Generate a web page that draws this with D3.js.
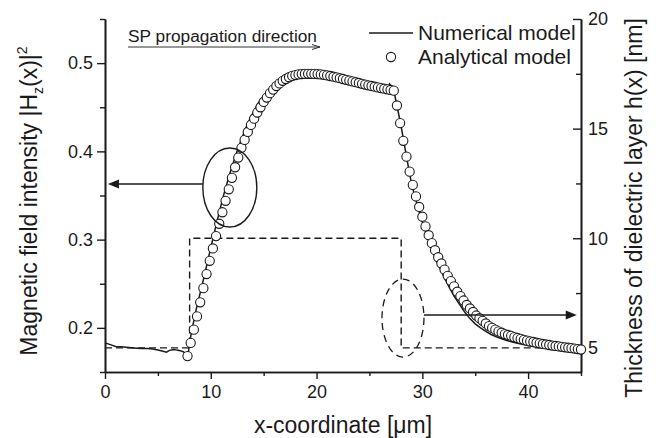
<!DOCTYPE html>
<html><head><meta charset="utf-8">
<script src="https://cdn.jsdelivr.net/npm/d3@7"></script>
<style>
html,body{margin:0;padding:0;background:#fff;}
text{font-family:"Liberation Sans",Arial,sans-serif;fill:#1a1a1a;}
</style></head>
<body><svg id="c" width="656" height="438"></svg>
<script>
// ---------- data ----------
const xTicks = [0, 10, 20, 30, 40];
const xMinor = [5, 15, 25, 35, 45];
const yTicks = [0.2, 0.3, 0.4, 0.5];
const yMinor = [0.15, 0.25, 0.35, 0.45, 0.55];
const hTicks = [5, 10, 15, 20];
const hMinor = [7.5, 12.5, 17.5];

// Numerical model (solid line)
const numX = [0,0.5,1,1.5,2,2.5,3,3.5,4,4.5,5,5.5,5.8,6.1,6.5,6.8,7.1,7.4,7.7,7.85,8.0,8.2,8.66,9.29,9.77,10.24,10.7,11.18,11.8,12.45,12.9,13.5,14,14.5,15,15.5,16,16.5,17,17.5,18,19,20,21,22,23,24,25,26,26.7,26.9,27.05,27.3,27.6,28,28.5,29,29.5,30,30.5,31,31.5,32,32.5,33,33.5,34,34.5,35,35.5,36,36.5,37,37.5,38,38.5,39,40,41,42,43,44,45];
const numY = [0.183,0.181,0.179,0.1785,0.178,0.1775,0.177,0.1765,0.1765,0.176,0.175,0.1735,0.1725,0.1745,0.1755,0.1748,0.1742,0.173,0.170,0.169,0.183,0.197,0.223,0.254,0.279,0.303,0.326,0.349,0.375,0.399,0.414,0.432,0.444,0.455,0.463,0.470,0.475,0.479,0.482,0.4845,0.486,0.4875,0.4878,0.4865,0.4835,0.4805,0.4775,0.4745,0.472,0.4705,0.4765,0.4745,0.469,0.452,0.428,0.394,0.362,0.340,0.320,0.302,0.286,0.272,0.259,0.247,0.236,0.227,0.218,0.2105,0.2045,0.2,0.196,0.1925,0.19,0.1877,0.1857,0.184,0.1825,0.18,0.178,0.1765,0.1755,0.1747,0.174];

// Analytical model (open circles)
const anaX = [7.8,8.1,8.4,8.7,9.0,9.3,9.6,9.9,10.2,10.5,10.8,11.1,11.4,11.7,12.0,12.3,12.6,12.9,13.2,13.5,13.8,14.1,14.4,14.7,15.0,15.3,15.6,15.9,16.2,16.5,16.8,17.1,17.4,17.7,18.0,18.3,18.6,18.9,19.2,19.5,19.8,20.1,20.4,20.7,21.0,21.3,21.6,21.9,22.2,22.5,22.8,23.1,23.4,23.7,24.0,24.3,24.6,24.9,25.2,25.5,25.8,26.1,26.4,26.7,27.0,27.3,27.6,27.9,28.2,28.5,28.8,29.1,29.4,29.7,30.0,30.3,30.6,30.9,31.2,31.5,31.8,32.1,32.4,32.7,33.0,33.3,33.6,33.9,34.2,34.5,34.8,35.1,35.4,35.7,36.0,36.3,36.6,36.9,37.2,37.5,37.8,38.1,38.4,38.7,39.0,39.3,39.6,39.9,40.2,40.5,40.8,41.1,41.4,41.7,42.0,42.3,42.6,42.9,43.2,43.5,43.8,44.1,44.4,44.7,45.0];
const anaY = [0.168,0.183,0.198,0.213,0.229,0.245,0.261,0.276,0.290,0.304,0.318,0.331,0.344,0.357,0.370,0.382,0.393,0.404,0.413,0.422,0.430,0.437,0.444,0.450,0.456,0.461,0.466,0.470,0.474,0.477,0.480,0.482,0.484,0.4855,0.4865,0.4872,0.4876,0.4878,0.4879,0.4879,0.4878,0.4876,0.4872,0.4867,0.4861,0.4854,0.4846,0.4838,0.4829,0.4820,0.4811,0.4802,0.4793,0.4784,0.4775,0.4766,0.4757,0.4749,0.4741,0.4733,0.4725,0.4717,0.4710,0.4703,0.4696,0.4688,0.452,0.432,0.412,0.394,0.377,0.362,0.349,0.337,0.326,0.315,0.305,0.296,0.288,0.280,0.273,0.266,0.259,0.253,0.247,0.241,0.236,0.231,0.226,0.222,0.218,0.214,0.211,0.208,0.205,0.202,0.200,0.198,0.196,0.1945,0.193,0.192,0.191,0.1895,0.1885,0.1875,0.1865,0.1855,0.1847,0.1840,0.1832,0.1825,0.1818,0.1812,0.1806,0.1800,0.1795,0.1790,0.1785,0.1780,0.1775,0.1770,0.1765,0.1760,0.1755];

// Dielectric layer thickness h(x) (dashed step)
const hX = [0, 8, 28, 45];
const hY = [5, 10, 5, 5];

// ---------- layout ----------
const svg = d3.select("#c");
const L = 105, R = 581, T = 19, B = 372;
const x = d3.scaleLinear().domain([0, 45]).range([L, R]);
const y = d3.scaleLinear().domain([0.15, 0.55]).range([B, T]);
const yh = d3.scaleLinear().domain([3.9, 20]).range([B, T]);
const ink = "#1a1a1a";

function styleAxis(g){
  g.selectAll("path.domain").attr("stroke", ink).attr("stroke-width", 1.6);
  g.selectAll(".tick line").attr("stroke", ink).attr("stroke-width", 1.4);
  g.selectAll("text").attr("font-size", 18).attr("fill", ink)
    .attr("font-family", '"Liberation Sans",Arial,sans-serif');
}

// bottom axis
svg.append("g").attr("transform", `translate(0,${B})`)
  .call(d3.axisBottom(x).tickValues(xMinor).tickSize(4).tickSizeOuter(0).tickFormat(""))
  .call(styleAxis);
svg.append("g").attr("transform", `translate(0,${B})`)
  .call(d3.axisBottom(x).tickValues(xTicks).tickSize(7).tickSizeOuter(0).tickPadding(6).tickFormat(d3.format("d")))
  .call(styleAxis);

// left axis
svg.append("g").attr("transform", `translate(${L},0)`)
  .call(d3.axisLeft(y).tickValues(yMinor).tickSize(5).tickSizeOuter(0).tickFormat(""))
  .call(styleAxis);
svg.append("g").attr("transform", `translate(${L},0)`)
  .call(d3.axisLeft(y).tickValues(yTicks).tickSize(8).tickSizeOuter(0).tickPadding(4).tickFormat(d3.format(".1f")))
  .call(styleAxis);

// right axis (ticks pointing inward)
svg.append("g").attr("transform", `translate(${R},0)`)
  .call(d3.axisRight(yh).tickValues(hMinor).tickSizeInner(-5).tickSizeOuter(0).tickFormat(""))
  .call(styleAxis);
svg.append("g").attr("transform", `translate(${R},0)`)
  .call(d3.axisRight(yh).tickValues(hTicks).tickSizeInner(-8).tickSizeOuter(0).tickPadding(7).tickFormat(d3.format("d")))
  .call(styleAxis);

// axis titles
svg.append("text").attr("x", (L + R) / 2).attr("y", 433).attr("text-anchor", "middle")
  .attr("font-size", 23).text("x-coordinate [\u03bcm]");

const lt = svg.append("text").attr("transform", "translate(37,201) rotate(-90)")
  .attr("text-anchor", "middle").attr("font-size", 23);
lt.append("tspan").text("Magnetic field intensity |H");
lt.append("tspan").attr("font-size", 14).attr("dy", 6).text("z");
lt.append("tspan").attr("dy", -6).text("(x)|");
lt.append("tspan").attr("font-size", 14).attr("dy", -10).text("2");

svg.append("text").attr("transform", "translate(642,208) rotate(-90)")
  .attr("text-anchor", "middle").attr("font-size", 23)
  .text("Thickness of dielectric layer h(x) [nm]");

// ---------- marks ----------
const hData = hX.map((d, i) => [d, hY[i]]);
svg.append("path").datum(hData)
  .attr("d", d3.line().x(d => x(d[0])).y(d => yh(d[1])).curve(d3.curveStepAfter))
  .attr("fill", "none").attr("stroke", ink).attr("stroke-width", 1.4).attr("stroke-dasharray", "7,4");

const nData = numX.map((d, i) => [d, numY[i]]);
svg.append("path").datum(nData)
  .attr("d", d3.line().x(d => x(d[0])).y(d => y(d[1])))
  .attr("fill", "none").attr("stroke", ink).attr("stroke-width", 1.5);

const n = Math.min(anaX.length, anaY.length);
const aData = anaX.slice(0, n).map((d, i) => [d, anaY[i]]);
svg.append("g").selectAll("circle").data(aData).join("circle")
  .attr("cx", d => x(d[0])).attr("cy", d => y(d[1])).attr("r", 4.6)
  .attr("fill", "#fff").attr("stroke", ink).attr("stroke-width", 1.1);

// ---------- annotations ----------
// solid ellipse with arrow to left axis
const e1x = x(11.8), e1y = y(0.359);
svg.append("ellipse").attr("cx", e1x).attr("cy", e1y).attr("rx", 27).attr("ry", 39.5)
  .attr("fill", "none").attr("stroke", ink).attr("stroke-width", 1.4);
const a1y = y(0.363);
svg.append("line").attr("x1", e1x - 27).attr("x2", x(0.28) + 9).attr("y1", a1y).attr("y2", a1y)
  .attr("stroke", ink).attr("stroke-width", 1.4);
svg.append("path").attr("d", `M${x(0.28)},${a1y} l11,-4.5 l0,9 z`).attr("fill", ink);

// dashed ellipse with arrow to right axis
const e2x = x(28.17), e2y = yh(6.36);
svg.append("ellipse").attr("cx", e2x).attr("cy", e2y).attr("rx", 21).attr("ry", 39)
  .attr("fill", "none").attr("stroke", ink).attr("stroke-width", 1.3).attr("stroke-dasharray", "7,5");
const a2y = yh(6.5);
svg.append("line").attr("x1", e2x + 21).attr("x2", x(44.6) - 9).attr("y1", a2y).attr("y2", a2y)
  .attr("stroke", ink).attr("stroke-width", 1.4);
svg.append("path").attr("d", `M${x(44.6)},${a2y} l-11,-4.5 l0,9 z`).attr("fill", ink);

// SP propagation direction
svg.append("text").attr("x", 128).attr("y", 42).attr("font-size", 17.3).text("SP propagation direction");
svg.append("line").attr("x1", 128).attr("x2", 320).attr("y1", 47).attr("y2", 47)
  .attr("stroke", "#333").attr("stroke-width", 1);
svg.append("path").attr("d", "M320,47 l-8,-2.5 M320,47 l-8,2.5").attr("stroke", "#333").attr("stroke-width", 1).attr("fill", "none");

// legend
svg.append("line").attr("x1", 369).attr("x2", 413).attr("y1", 33).attr("y2", 33)
  .attr("stroke", ink).attr("stroke-width", 1.5);
svg.append("text").attr("x", 418).attr("y", 40).attr("font-size", 21).text("Numerical model");
svg.append("circle").attr("cx", 391).attr("cy", 57).attr("r", 4.6)
  .attr("fill", "#fff").attr("stroke", ink).attr("stroke-width", 1.1);
svg.append("text").attr("x", 418).attr("y", 64).attr("font-size", 21).text("Analytical model");
</script></body></html>
